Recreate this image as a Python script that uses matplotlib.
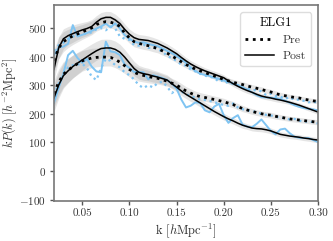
import numpy as np
import matplotlib
matplotlib.use('Agg')
import matplotlib.pyplot as plt

plt.rcParams['font.family'] = 'serif'
plt.rcParams['font.serif'] = ['cmr10', 'DejaVu Serif']
plt.rcParams['mathtext.fontset'] = 'cm'
plt.rcParams['axes.formatter.use_mathtext'] = True

# k grid (h/Mpc)
k = np.round(np.arange(0.02, 0.3001, 0.005), 3)

# models (black) : upper and lower groups, pre / post reconstruction
up_post = [355, 430, 462, 473, 480, 487, 493, 498, 505, 520, 532, 537, 537, 528, 515, 495, 478, 466, 460, 458,
           456, 451, 446, 438, 430, 420, 410, 397, 385, 374, 365, 357, 350, 344, 338, 332, 326, 315, 305, 296,
           288, 281, 275, 268, 262, 258, 255, 251, 248, 244, 240, 235, 230, 224, 218, 212, 206]
up_pre = [385, 430, 452, 463, 472, 479, 486, 493, 500, 512, 518, 522, 520, 515, 505, 482, 465, 452, 446, 442,
          438, 433, 428, 420, 412, 402, 392, 382, 372, 364, 356, 350, 344, 338, 332, 326, 320, 315, 310, 306,
          302, 297, 293, 289, 285, 280, 276, 271, 266, 263, 260, 257, 255, 251, 248, 245, 243]
lo_post = [255, 300, 333, 350, 365, 377, 388, 399, 410, 420, 428, 430, 430, 425, 415, 398, 378, 358, 345, 340,
           337, 332, 328, 323, 318, 305, 293, 280, 268, 258, 248, 238, 228, 218, 208, 199, 190, 182, 175, 167,
           160, 155, 150, 148, 147, 144, 140, 134, 128, 125, 122, 120, 118, 115, 113, 110, 108]
lo_pre = [270, 310, 338, 352, 365, 375, 385, 390, 395, 397, 398, 398, 397, 390, 380, 368, 355, 345, 338, 334,
          330, 327, 324, 319, 314, 307, 300, 290, 280, 272, 265, 260, 257, 253, 250, 246, 242, 237, 232, 225,
          218, 213, 208, 204, 200, 197, 195, 191, 188, 185, 182, 180, 178, 176, 174, 172, 170]

# model scatter (grey bands)
up_err = [40, 38, 35, 32, 30, 28, 26, 25, 24, 23, 22, 21, 20, 20, 19, 19, 18, 18, 17, 17,
          16, 16, 15, 15, 14, 14, 13, 13, 12, 12, 12, 12, 11, 11, 11, 11, 10, 10, 10, 10,
          10, 10, 9, 9, 9, 9, 9, 9, 9, 8, 8, 8, 8, 8, 8, 8, 8]
lo_err = [48, 46, 44, 42, 40, 38, 36, 35, 34, 33, 32, 31, 30, 29, 28, 27, 26, 25, 24, 23,
          22, 21, 20, 19, 18, 17, 16, 16, 15, 15, 14, 14, 13, 13, 12, 12, 12, 11, 11, 11,
          11, 10, 10, 10, 10, 10, 10, 10, 9, 9, 9, 9, 9, 9, 9, 9, 9]

# measurements (blue)
up_post_d = [405, 432, 435, 445, 510, 470, 476, 482, 490, 498, 505, 515, 502, 516, 498, 475, 462, 452, 448, 450,
             444, 440, 436, 428, 420, 412, 402, 390, 378, 362, 350, 340, 336, 332, 326, 322, 316, 312, 305, 300,
             292, 285, 275, 265, 258, 257, 256, 255, 252, 246, 238, 230, 224, 220, 217, 215, 212]
up_pre_d = [420, 440, 448, 462, 470, 475, 478, 480, 485, 495, 500, 492, 505, 498, 470, 462, 458, 440, 438, 442,
            430, 432, 425, 418, 402, 395, 385, 372, 368, 355, 348, 340, 333, 330, 325, 312, 318, 305, 306, 300,
            292, 288, 283, 282, 278, 265, 270, 262, 260, 252, 258, 248, 250, 245, 240, 242, 238]
lo_post_d = [238, 290, 340, 405, 420, 395, 378, 392, 365, 348, 345, 452, 418, 415, 405, 372, 360, 346, 346, 345,
             320, 335, 330, 325, 318, 305, 288, 250, 222, 228, 240, 238, 212, 205, 225, 235, 195, 168, 185, 195,
             162, 155, 153, 165, 180, 160, 140, 128, 145, 148, 132, 120, 116, 115, 115, 108, 101]
lo_pre_d = [265, 305, 340, 362, 370, 372, 375, 360, 330, 318, 360, 392, 385, 370, 362, 345, 335, 320, 300, 290,
            300, 292, 308, 312, 295, 272, 285, 278, 268, 262, 256, 250, 248, 245, 240, 236, 230, 228, 236, 222,
            216, 212, 210, 205, 200, 196, 194, 190, 186, 184, 180, 182, 176, 172, 174, 170, 166]

fig = plt.figure(figsize=(3.33, 2.41), dpi=100)
ax = fig.add_axes([0.162, 0.166, 0.793, 0.813])

for m, e in [(up_pre, up_err), (up_post, up_err), (lo_pre, lo_err), (lo_post, lo_err)]:
    m = np.array(m)
    e = np.array(e)
    ax.fill_between(k, m - e, m + e, color='gray', alpha=0.2, lw=0)

blue = '#7fc4f2'
ax.plot(k, up_post_d, color=blue, lw=1.4)
ax.plot(k, lo_post_d, color=blue, lw=1.4)
ax.plot(k, up_pre_d, color=blue, lw=1.6, ls=':')
ax.plot(k, lo_pre_d, color=blue, lw=1.6, ls=':')

ax.plot(k, up_pre, color='k', lw=2, ls=':', label='Pre')
ax.plot(k, up_post, color='k', lw=1.1, label='Post')
ax.plot(k, lo_pre, color='k', lw=2, ls=':')
ax.plot(k, lo_post, color='k', lw=1.1)

ax.set_xlim(0.02, 0.30)
ax.set_ylim(-105, 580)
ax.set_xticks([0.05, 0.10, 0.15, 0.20, 0.25, 0.30])
ax.set_xticklabels(['0.05', '0.10', '0.15', '0.20', '0.25', '0.30'])
ax.set_yticks([-100, 0, 100, 200, 300, 400, 500])
ax.tick_params(labelsize=8, colors='#555555', labelcolor='#333333', length=3, width=1, pad=2.5)
for s in ax.spines.values():
    s.set_color('#777777')
    s.set_linewidth(1.2)

ax.set_xlabel(r'k $[h{\rm Mpc}^{-1}]$', fontsize=9, color='#333333', labelpad=2)
ax.set_ylabel(r'$kP(k)\ [h^{-2}{\rm Mpc}^2]$', fontsize=8.8, color='#333333', labelpad=0)

leg = ax.legend(title='ELG1', loc='upper right', fontsize=8.5, title_fontsize=9,
                handlelength=2.4, framealpha=1, edgecolor='#dddddd', labelcolor='#333333',
                borderaxespad=0.6)

fig.savefig('out.png', dpi=100)
